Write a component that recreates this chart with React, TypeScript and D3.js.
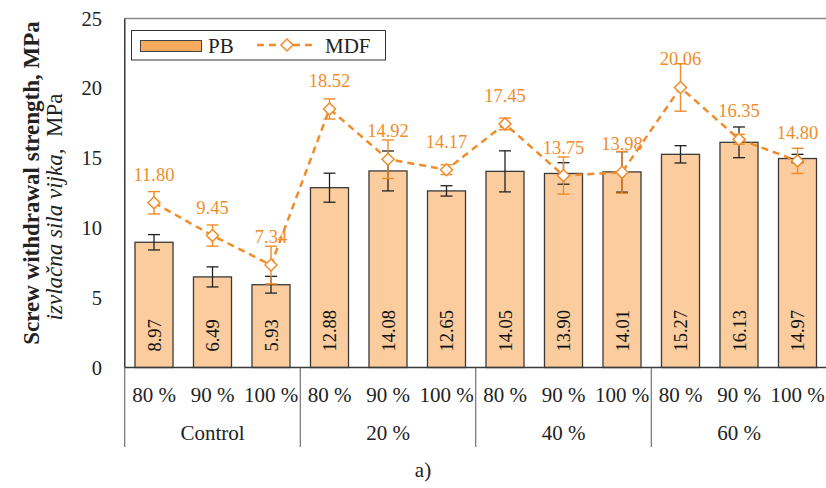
import React from "react";
import * as d3 from "d3";

const groups = ["Control", "20 %", "40 %", "60 %"];
const levels = ["80 %", "90 %", "100 %"];
const pbValues = [8.97, 6.49, 5.93, 12.88, 14.08, 12.65, 14.05, 13.9, 14.01, 15.27, 16.13, 14.97];
const pbErrors = [0.55, 0.72, 0.6, 1.04, 1.43, 0.37, 1.47, 0.77, 1.45, 0.62, 1.1, 0.3];
const mdfValues = [11.8, 9.45, 7.34, 18.52, 14.92, 14.17, 17.45, 13.75, 13.98, 20.06, 16.35, 14.8];
const mdfErrors = [0.8, 0.76, 1.35, 0.72, 1.38, 0.35, 0.42, 1.33, 1.5, 1.7, 0.35, 0.9];
const yTicks = [0, 5, 10, 15, 20, 25];

const W = 826;
const H = 488;
const FONT = "Liberation Serif";
const BAR_FILL = "#FACC9E";
const LEGEND_FILL = "#F8AA5E";
const ORANGE = "#F08C2A";
const DARK = "#3a3a3a";

export default function App() {
  const n = pbValues.length;
  const idx = d3.range(n);
  const x = d3
    .scaleBand<number>()
    .domain(idx)
    .range([124.75, 826.75])
    .paddingInner(0.35)
    .paddingOuter(0.175);
  const y = d3.scaleLinear().domain([0, 25]).range([367.5, 18.5]);
  const step = x.step();
  const bw = x.bandwidth();
  const cx = (i: number) => (x(i) as number) + bw / 2;
  const left = 124.75;
  const right = 826.75;
  const cap = 6;

  const line = d3
    .line<number>()
    .x((_, i) => cx(i))
    .y((d) => y(d));

  const diamond = (px: number, py: number, r: number) =>
    `M${px},${py - r}L${px + r},${py}L${px},${py + r}L${px - r},${py}Z`;

  const ts = { fontFamily: FONT };

  return (
    <svg
      width={W}
      height={H}
      style={{ position: "absolute", left: 0, top: 0, background: "#fff", fontFamily: FONT }}
    >
      {/* plot frame */}
      <line x1={left} x2={W} y1={y(25)} y2={y(25)} stroke="#8a8a8a" strokeWidth={1.5} />

      {/* bars */}
      {idx.map((i) => (
        <rect
          key={"b" + i}
          x={x(i)}
          y={y(pbValues[i])}
          width={bw}
          height={y(0) - y(pbValues[i])}
          fill={BAR_FILL}
          stroke={DARK}
          strokeWidth={1.3}
        />
      ))}

      {/* bar labels */}
      {idx.map((i) => (
        <text
          key={"bl" + i}
          transform={`translate(${cx(i) + 6.5},${y(0) - 16}) rotate(-90)`}
          fontSize={18.5}
          fill="#111"
          textAnchor="start"
          style={ts}
        >
          {pbValues[i].toFixed(2)}
        </text>
      ))}

      {/* PB error bars */}
      {idx.map((i) => {
        const px = cx(i);
        const t = y(pbValues[i] + pbErrors[i]);
        const b = y(pbValues[i] - pbErrors[i]);
        return (
          <g key={"pe" + i} stroke="#222" strokeWidth={1.3}>
            <line x1={px} x2={px} y1={t} y2={b} />
            <line x1={px - cap} x2={px + cap} y1={t} y2={t} />
            <line x1={px - cap} x2={px + cap} y1={b} y2={b} />
          </g>
        );
      })}

      {/* MDF line */}
      <path
        d={line(mdfValues) as string}
        fill="none"
        stroke={ORANGE}
        strokeWidth={2.5}
        strokeDasharray="7,5"
      />

      {/* MDF error bars */}
      {idx.map((i) => {
        const px = cx(i);
        const t = y(mdfValues[i] + mdfErrors[i]);
        const b = y(mdfValues[i] - mdfErrors[i]);
        return (
          <g key={"me" + i} stroke={ORANGE} strokeWidth={1.4}>
            <line x1={px} x2={px} y1={t} y2={b} />
            <line x1={px - cap} x2={px + cap} y1={t} y2={t} />
            <line x1={px - cap} x2={px + cap} y1={b} y2={b} />
          </g>
        );
      })}

      {/* MDF markers */}
      {idx.map((i) => (
        <path
          key={"mk" + i}
          d={diamond(cx(i), y(mdfValues[i]), 6)}
          fill="#fff"
          stroke={ORANGE}
          strokeWidth={1.5}
        />
      ))}

      {/* MDF labels */}
      {idx.map((i) => (
        <text
          key={"ml" + i}
          x={cx(i)}
          y={y(mdfValues[i]) - 22}
          fontSize={18.5}
          fill={ORANGE}
          textAnchor="middle"
          style={ts}
        >
          {mdfValues[i].toFixed(2)}
        </text>
      ))}

      {/* axes */}
      <line x1={left} x2={left} y1={y(25)} y2={y(0)} stroke={DARK} strokeWidth={1.5} />
      <line x1={left} x2={right} y1={y(0)} y2={y(0)} stroke={DARK} strokeWidth={1.5} />

      {yTicks.map((t) => (
        <text
          key={"yt" + t}
          x={102}
          y={y(t)}
          dy="0.35em"
          fontSize={20.5}
          textAnchor="end"
          fill="#222"
          style={ts}
        >
          {t}
        </text>
      ))}

      {/* x category labels */}
      {idx.map((i) => (
        <text
          key={"xl" + i}
          x={cx(i)}
          y={401.5}
          fontSize={21}
          textAnchor="middle"
          fill="#222"
          style={ts}
        >
          {levels[i % 3]}
        </text>
      ))}

      {/* group separators */}
      {d3.range(groups.length + 1).map((g) => (
        <line
          key={"gs" + g}
          x1={left + g * 3 * step}
          x2={left + g * 3 * step}
          y1={y(0)}
          y2={447}
          stroke="#555"
          strokeWidth={1}
        />
      ))}

      {groups.map((g, gi) => (
        <text
          key={"gl" + gi}
          x={left + (gi * 3 + 1.5) * step}
          y={440}
          fontSize={21}
          textAnchor="middle"
          fill="#222"
          style={ts}
        >
          {g}
        </text>
      ))}

      {/* y title */}
      <text
        transform={`translate(39,183) rotate(-90)`}
        fontSize={23}
        fontWeight="bold"
        textAnchor="middle"
        fill="#222"
        style={ts}
      >
        Screw withdrawal strength, MPa
      </text>
      <text
        transform={`translate(62,207) rotate(-90)`}
        fontSize={23}
        textAnchor="middle"
        fill="#222"
        style={ts}
      >
        <tspan fontStyle="italic">izvlačna sila vijka,</tspan>
        <tspan>{"\u00a0 MPa"}</tspan>
      </text>

      {/* legend */}
      <rect x={131.5} y={30.5} width={254} height={29.5} fill="#fff" stroke="#333" strokeWidth={1} />
      <rect x={140.5} y={40.5} width={61} height={11} fill={LEGEND_FILL} stroke="#444" strokeWidth={1} />
      <text x={208} y={52.5} fontSize={21} fill="#222" style={ts}>
        PB
      </text>
      <line x1={257} x2={317} y1={45} y2={45} stroke={ORANGE} strokeWidth={2.5} strokeDasharray="7,5" />
      <path d={diamond(287, 45, 6)} fill="#fff" stroke={ORANGE} strokeWidth={1.5} />
      <text x={325} y={52.5} fontSize={21} fill="#222" style={ts}>
        MDF
      </text>

      {/* caption */}
      <text x={423} y={470} dy="0.35em" fontSize={21} textAnchor="middle" fill="#222" style={ts}>
        a)
      </text>
    </svg>
  );
}
